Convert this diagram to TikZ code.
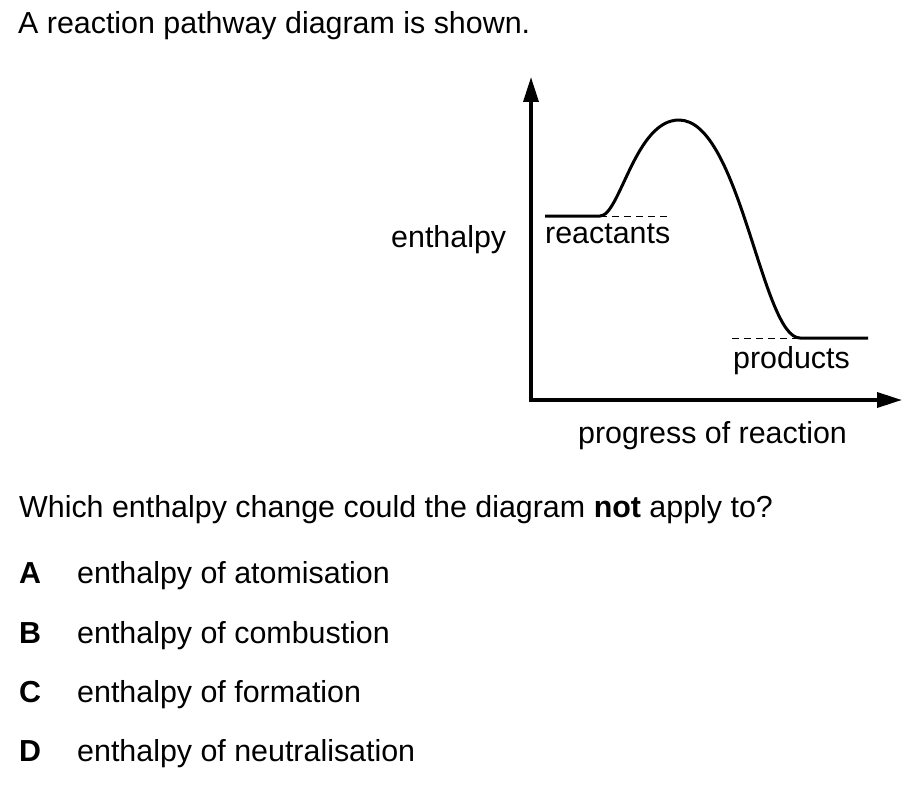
\documentclass[tikz,border=0pt]{standalone}
\usepackage{fontspec}
\setmainfont{Liberation Sans}
\usetikzlibrary{arrows.meta}
\tikzset{
  txt/.style={anchor=base west, inner sep=0pt, font=\fontsize{30.4}{36}\selectfont},
  axis/.style={line width=3.5pt, -{Triangle[length=25pt,width=15pt]}},
  pathway/.style={line width=3pt, line join=round},
  guide/.style={line width=1pt, dash pattern=on 7pt off 5pt}
}
\begin{document}
\begin{tikzpicture}[x=1pt,y=-1pt]
\useasboundingbox (0,0) rectangle (924,789);
% text
\node[txt] (title) at (18,34) {A reaction pathway diagram is shown.};
\node[txt] (ylab) at (391,247) {enthalpy};
\node[txt] (react) at (545,243) {reactants};
\node[txt] (prod) at (733,368) {products};
\node[txt] (xlab) at (578,443) {progress of reaction};
\node[txt] (q) at (19,517) {Which enthalpy change could the diagram \textbf{not} apply to?};
\node[txt] (la) at (19,583) {\textbf{A}};
\node[txt] (ta) at (77,583) {enthalpy of atomisation};
\node[txt] (lb) at (19,643) {\textbf{B}};
\node[txt] (tb) at (77,643) {enthalpy of combustion};
\node[txt] (lc) at (19,702) {\textbf{C}};
\node[txt] (tc) at (77,702) {enthalpy of formation};
\node[txt] (ld) at (19,761) {\textbf{D}};
\node[txt] (td) at (77,761) {enthalpy of neutralisation};
% axes
\coordinate (origin) at (531,400);
\coordinate (ytip) at (531,77);
\coordinate (xstart) at (529.25,400);
\coordinate (xtip) at (902,400);
\draw[axis] (origin) -- (ytip);
\draw[axis] (xstart) -- (xtip);
% curve
\coordinate (r0) at (545,216);
\coordinate (r1) at (600,216);
\coordinate (pk) at (679,120);
\coordinate (p1) at (800,338);
\coordinate (p2) at (868,338);
\coordinate (rd) at (667,216);
\coordinate (pd) at (732,338);
\draw[guide] (r1) -- (rd);
\draw[guide] (pd) -- (p1);
\draw[pathway] (r0) -- (r1) .. controls (620,216) and (635,120) .. (pk)
  .. controls (740,120) and (762,338) .. (p1) -- (p2);
\end{tikzpicture}
\end{document}
